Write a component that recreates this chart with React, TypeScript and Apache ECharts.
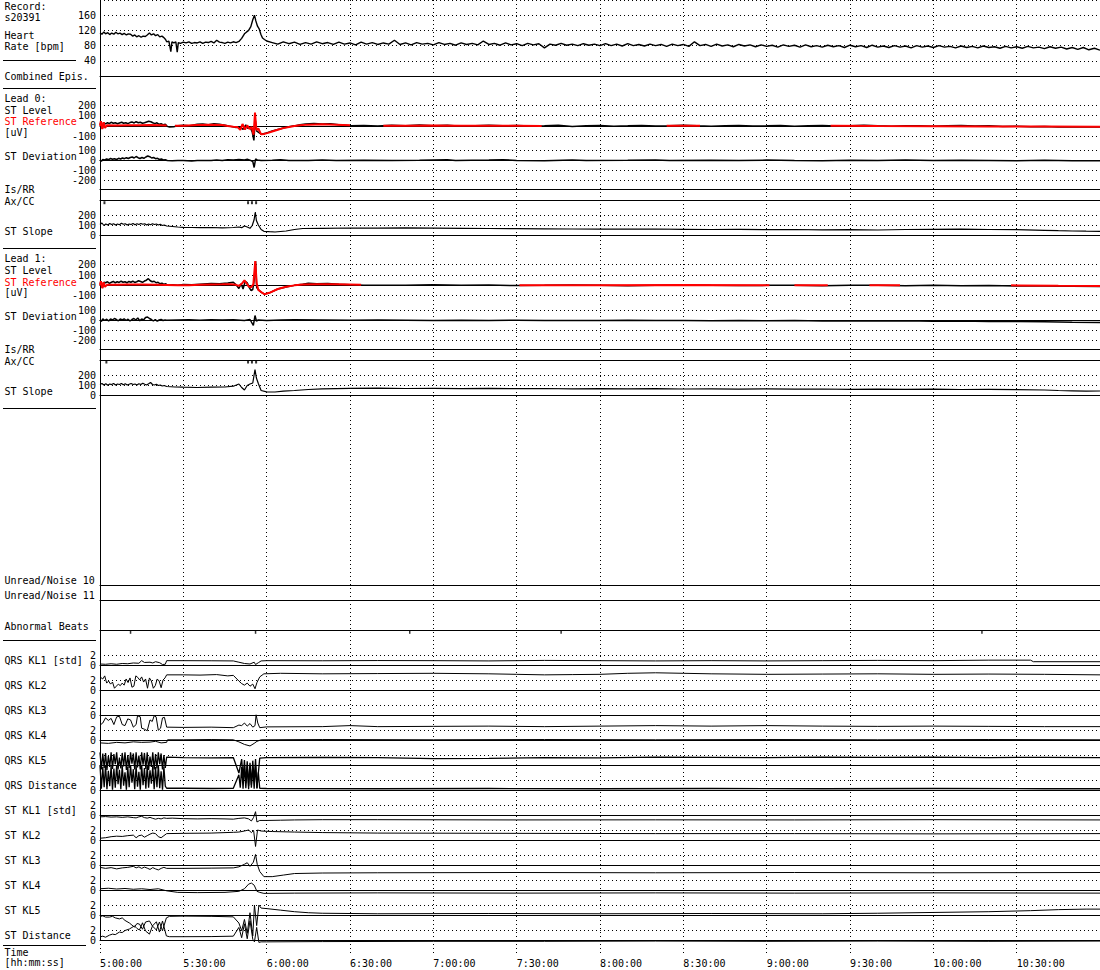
import React, { useEffect, useRef } from "react";
import * as echarts from "echarts";

// ---------- time axis (minutes after 5:00:00) ----------
const T_MIN = 0;
const T_MAX = 360;
const T_STEP = 30;
const START_HOUR = 5;

// ---------- y tick labels ----------
const HR_TICKS = [40, 80, 120, 160];
const LEVEL_TICKS = [-100, 0, 100, 200];
const DEV_TICKS = [-200, -100, 0, 100];
const SLOPE_TICKS = [0, 100, 200];
const KL_TICKS = [0, 2];

// ---------- Heart rate [bpm] ----------
const HR_BPM: [number, number][] = [
  [0,114],[0.7,110],[1.4,116],[2,111],[2.8,114],[3.5,109],[4.2,113],[5,110],[5.7,115],[6.4,111],[7.2,113],[8,109],[8.7,112],[9.5,108],[10.2,111],[11,110],[11.8,105],[12.5,108],[13.2,103],[14,106],[14.8,102],[15.5,105],[16.3,104],[17,108],[17.8,113],[18.5,108],[19.3,111],[20,106],[20.8,109],[21.5,103],[22.3,105],[23,101],[23.6,96],[24,90],[24.8,92],[25.5,64],[25.9,90],[26.6,87],[27.3,90],[27.8,63],[28.2,88],[29,86],[30,89],[31,87],[32,90],[33,86],[34,88],[35,87],[36,90],[37,86],[38,89],[39,88],[40,91],[41,87],[42,94],[43,89],[44,88],[45,86],[46,89],[47,87],[48,90],[49,88],[50,91],[51,99],[52,111],[52.8,116],[53.5,120],[54.3,130],[55,148],[55.6,160],[56.1,145],[56.7,131],[57.3,124],[57.9,110],[58.5,100],[59.2,96],
  [60,92],[62,88],[64,84],[66,90],[68,85],[70,89],[72,83],[74,88],[76,84],[78,90],[80,85],[82,88],[84,83],[86,89],[88,84],[90,87],[92,82],[94,89],[96,84],[98,88],[100,83],[102,87],[104,84],[106,94],[108,83],[110,87],[112,82],[114,88],[116,84],[118,86],[120,82],[122,88],[124,83],[126,86],[128,81],[130,87],[132,83],[134,86],[136,82],[138,92],[140,83],[142,86],[144,81],[146,87],[148,82],[150,85],[152,80],[154,86],[156,82],[158,85],[160,74],[162,84],[164,81],[166,86],[168,81],[170,84],[172,80],[174,85],[176,81],[178,84],[180,80],[182,85],[184,80],[186,84],[188,79],[190,85],[192,80],[194,83],[196,79],[198,84],[200,80],[202,83],[204,78],[206,84],[208,80],[210,83],[212,78],[214,90],[216,80],[218,83],[220,78],[222,84],[224,79],[226,82],[228,77],[230,83],[232,79],[234,82],[236,77],[238,82],[240,78],[242,81],[244,76],[246,82],[248,78],[250,81],[252,76],[254,82],[256,77],[258,80],[260,76],[262,81],[264,77],[266,80],[268,75],[270,81],[272,77],[274,80],[276,75],[278,81],[280,76],[282,79],[284,75],[286,80],[288,76],[290,79],[292,74],[294,80],[296,76],[298,79],[300,75],[302,80],[304,76],[306,78],[308,74],[310,79],[312,75],[314,78],[316,74],[318,79],[320,75],[322,77],[324,73],[326,78],[328,74],[330,77],[332,73],[334,78],[336,74],[338,76],[340,72],[342,77],[344,73],[346,76],[348,71],[350,75],[352,70],[354,75],[356,69],[358,73],[360,68]
];

// ---------- Lead 0 [uV] ----------
const L0_ST_LEVEL: [number, number][] = [
  [0,10],[0.4,45],[0.9,-25],[1.4,30],[2,20],[2.7,30],[3.4,22],[4,35],[4.8,25],[5.5,30],[6.3,20],[7,28],[7.8,35],[8.5,25],[9.3,30],[10,22],[10.8,32],[11.5,38],[12.3,28],[13,40],[13.8,30],[14.5,35],[15.3,25],[16,30],[16.8,38],[17.5,45],[18.3,40],[19,30],[19.8,22],[20.5,30],[21.3,15],[22,20],[22.8,10],[23.5,15],[24.2,-5],[25,-10],[26.5,-8],[28,0],[30,5],[32,0],[35,15],[37,18],[39,10],[41,20],[43,15],[45,5],[47,-5],[49,-15],[50.5,-10],[51.5,-35],[52.5,10],[53.2,-25],[54,-10],[54.8,-60],[55.4,-140],[55.9,60],[56.4,-50],[57,-60],[58,-80],[60,-68],[62,-50],[64,-35],[66,-20],[68,-8],[70,0],[72,10],[74,18],[77,22],[80,18],[83,20],[86,10],[90,0],[95,3],[100,-2],[105,5],[110,0],[115,8],[120,2],[125,5],[130,-3],[135,2],[140,6],[145,0],[150,3],[155,-2],[160,0],[165,5],[170,-5],[175,0],[180,3],[185,-3],[190,0],[195,4],[200,-2],[205,0],[210,6],[215,0],[220,-4],[225,0],[230,3],[235,-2],[240,0],[245,4],[250,-3],[255,0],[260,3],[265,-2],[270,0],[275,5],[280,0],[285,-3],[290,2],[295,0],[300,-4],[305,0],[310,3],[315,-2],[320,0],[325,-5],[330,-3],[335,-8],[340,-5],[345,-10],[350,-8],[355,-12],[360,-10]
];
const L0_ST_REF: [number, number | null][] = [
  [0,0],[0.3,45],[0.8,-30],[1.3,35],[1.8,-20],[2.5,5],[6,3],[10,5],[14,6],[18,8],[22,5],[24,3],[25,null],
  [27,0],[30,2],[35,8],[40,10],[44,8],[46,-2],[48,-8],[49.5,-12],[50.5,-38],[51.3,18],[52.2,-35],[53,5],[53.8,-30],[54.6,-10],[55.3,-85],[55.8,128],[56.3,-40],[57,-25],[58,-82],[59,-78],[60.5,-68],[62,-55],[64,-38],[66,-22],[68,-10],[70,-2],[72,5],[75,12],[80,15],[85,10],[90,5],[95,null],
  [102,2],[110,0],[120,3],[130,0],[140,2],[150,0],[159,-2],[180,null],
  [204,0],[216,0],[240,null],
  [263,0],[280,-2],[300,-3],[320,-5],[340,-6],[360,-8]
];
const L0_ST_DEV: [number, number][] = [
  [0,5],[0.5,-8],[1,10],[1.7,5],[2.4,15],[3.1,8],[3.8,20],[4.5,12],[5.2,18],[6,10],[6.7,22],[7.4,15],[8.1,25],[8.8,18],[9.5,28],[10.2,20],[10.9,30],[11.6,35],[12.3,25],[13,40],[13.7,28],[14.4,20],[15.1,30],[15.8,22],[16.5,35],[17.2,45],[17.9,38],[18.6,25],[19.3,30],[20,18],[20.7,22],[21.4,10],[22.1,15],[22.8,5],[23.5,8],[24.2,0],[26,-2],[28,0],[30,0],[33,-5],[35,0],[40,0],[42,5],[44,0],[46,8],[48,5],[50,10],[52,6],[53,12],[54,4],[55,-10],[55.5,-70],[56,15],[56.6,5],[58,0],[62,3],[65,8],[68,0],[75,0],[80,5],[85,0],[95,2],[105,0],[115,3],[125,8],[128,0],[140,5],[145,8],[150,0],[160,-3],[170,5],[175,0],[190,2],[200,6],[205,0],[220,3],[230,0],[240,4],[250,0],[260,-2],[270,3],[280,0],[290,5],[300,0],[310,3],[320,0],[330,-3],[340,2],[350,-3],[360,-2]
];
const L0_ST_SLOPE: [number, number][] = [
  [0,110],[0.7,125],[1.4,100],[2.1,115],[2.8,105],[3.5,120],[4.2,110],[4.9,118],[5.6,105],[6.3,115],[7,108],[7.7,122],[8.4,112],[9.1,118],[9.8,105],[10.5,115],[11.2,110],[11.9,120],[12.6,108],[13.3,118],[14,110],[14.7,120],[15.4,112],[16.1,118],[16.8,105],[17.5,115],[18.2,108],[18.9,118],[19.6,110],[20.3,115],[21,105],[21.7,112],[22.4,100],[23.1,105],[24,95],[26,90],[28,85],[30,82],[33,80],[36,78],[40,80],[44,77],[48,80],[50,85],[51,78],[52,95],[53,85],[54,72],[54.8,100],[55.5,160],[55.9,235],[56.3,150],[57,105],[58,60],[59,42],[61,38],[63,35],[65,40],[67,45],[70,60],[73,70],[80,72],[90,75],[100,73],[110,76],[120,74],[130,72],[140,70],[150,68],[160,66],[170,65],[180,64],[190,63],[200,65],[210,62],[220,60],[230,61],[240,58],[250,60],[260,57],[270,58],[280,55],[290,60],[300,62],[310,63],[320,60],[330,58],[340,52],[345,48],[350,45],[355,43],[360,42]
];
const L0_AXCC_MARKS: number[] = [1.6, 53.3, 54.7, 56.2];

// ---------- Lead 1 [uV] ----------
const L1_ST_LEVEL: [number, number][] = [
  [0,15],[0.4,40],[0.9,-25],[1.4,30],[2,25],[2.7,35],[3.4,20],[4.1,30],[4.8,38],[5.5,25],[6.2,35],[6.9,28],[7.6,40],[8.3,30],[9,35],[9.7,25],[10.4,38],[11.1,30],[11.8,40],[12.5,28],[13.2,35],[13.9,45],[14.6,38],[15.3,30],[16,42],[16.7,50],[17.4,65],[18.1,45],[18.8,35],[19.5,40],[20.2,25],[20.9,30],[21.6,15],[22.3,22],[23,10],[23.7,15],[24.4,0],[26,5],[28,0],[30,8],[33,5],[36,12],[40,18],[43,15],[46,22],[48,30],[49,5],[50,-30],[50.8,15],[51.5,-35],[52.3,40],[53,25],[53.7,-20],[54.4,-50],[55,-40],[55.5,50],[56,235],[56.4,-20],[57,-40],[58,-65],[59.2,-85],[61,-72],[64,-35],[67,-15],[70,0],[73,10],[75,20],[78,15],[82,18],[86,10],[90,5],[95,0],[100,2],[110,0],[120,5],[130,0],[140,3],[150,-2],[160,0],[170,4],[180,0],[190,-3],[200,0],[210,3],[220,0],[230,-2],[240,0],[250,2],[260,-3],[270,0],[280,2],[290,-3],[300,0],[310,-4],[320,-2],[330,-6],[340,-5],[350,-8],[360,-10]
];
const L1_ST_REF: [number, number | null][] = [
  [0,0],[0.3,40],[0.8,-27],[1.3,30],[1.8,-15],[2.5,5],[6,5],[10,8],[15,8],[20,6],[24,4],[28,2],[32,0],[36,5],[40,8],[44,10],[47,12],[49,5],[50,-5],[51,15],[52,48],[52.8,20],[53.5,-10],[54.3,-20],[55.2,10],[55.9,235],[56.4,20],[57,-45],[58.2,-68],[59.2,-86],[61,-72],[64,-35],[67,-14],[70,0],[73,8],[78,12],[85,10],[94,5],[120,null],
  [151,0],[180,2],[210,3],[241,0],[245,null],
  [250,0],[262,0],[270,null],
  [277,0],[288,0],[300,null],
  [328,0],[345,-3],[360,-5]
];
const L1_ST_DEV: [number, number][] = [
  [0,0],[0.5,-15],[1,12],[1.7,-5],[2.4,8],[3.1,-10],[3.8,10],[4.5,0],[5.2,15],[5.9,5],[6.6,-8],[7.3,10],[8,0],[8.7,12],[9.4,-5],[10.1,8],[10.8,-10],[11.5,5],[12.2,15],[12.9,0],[13.6,20],[14.3,-8],[15,10],[15.7,0],[16.4,25],[17.1,30],[17.8,15],[18.5,5],[19.2,-10],[19.9,5],[20.6,-12],[21.3,0],[22,5],[22.7,-5],[23.4,0],[24,-3],[28,0],[32,2],[36,-2],[40,3],[44,0],[48,2],[52,-5],[54,5],[55.2,-55],[55.8,45],[56.3,-10],[57,0],[60,-5],[65,0],[70,3],[80,0],[90,-3],[100,0],[110,-2],[120,-4],[130,-2],[140,-5],[150,-3],[160,-6],[170,-4],[180,-5],[190,-3],[200,-6],[210,-4],[220,-7],[230,-5],[240,-8],[250,-6],[260,-9],[270,-7],[280,-10],[290,-8],[300,-12],[310,-10],[320,-14],[330,-16],[340,-18],[350,-22],[360,-25]
];
const L1_ST_SLOPE: [number, number][] = [
  [0,105],[0.7,115],[1.4,100],[2.1,112],[2.8,98],[3.5,110],[4.2,104],[4.9,115],[5.6,100],[6.3,110],[7,105],[7.7,116],[8.4,102],[9.1,112],[9.8,100],[10.5,108],[11.2,115],[11.9,105],[12.6,110],[13.3,100],[14,112],[14.7,105],[15.4,118],[16.1,108],[16.8,100],[17.5,112],[18.2,125],[18.9,105],[19.6,100],[20.3,108],[21,95],[21.7,100],[22.4,90],[23.1,95],[24,85],[27,80],[30,78],[35,75],[40,78],[45,80],[48,88],[50,110],[51,75],[52,50],[53,95],[54,110],[55,120],[55.8,255],[56.3,170],[57,115],[58,45],[60,32],[63,30],[66,38],[70,45],[75,55],[80,62],[90,66],[100,68],[110,65],[120,67],[130,64],[140,66],[150,63],[160,65],[170,62],[180,64],[190,61],[200,63],[210,60],[220,62],[230,59],[240,61],[250,58],[260,60],[270,57],[280,59],[290,56],[300,58],[310,55],[320,57],[330,54],[340,50],[345,45],[350,42],[355,38],[360,40]
];
const L1_AXCC_MARKS: number[] = [2.3, 53.3, 54.7, 56.2];

// ---------- Abnormal beats (minutes) ----------
const ABNORMAL_BEATS: number[] = [11, 56, 111.5, 166, 317.5];

// ---------- QRS Karhunen-Loeve coefficients [std] ----------
const QRS_KL1: [number, number][] = [
  [0,0.25],[2,0.2],[4,0.3],[6,0.2],[8,0.35],[10,0.3],[12,0.45],[14,0.4],[15,0.9],[16,0.55],[18,0.6],[19,0.45],[20,0.7],[21.5,0.5],[22.5,0.15],[23.5,0.2],[24,0.9],[30,0.9],[40,0.88],[48,0.85],[50,0.6],[52,0.35],[54,0.25],[55.5,0.6],[56,0.15],[57,0.5],[58,0.85],[60,0.9],[80,0.88],[100,0.92],[120,0.9],[140,0.85],[160,0.95],[180,0.9],[200,0.85],[220,0.9],[240,0.85],[260,0.9],[280,0.95],[300,0.9],[320,1.0],[335,1.0],[336,0.7],[360,0.7]
];
const QRS_KL2: [number, number][] = [
  [0,2.6],[1,2.2],[1.7,2.8],[2.4,1.4],[3.1,1.8],[3.8,1.2],[4.5,1.6],[5.2,0.4],[5.9,0.8],[6.6,1.2],[7.3,0.9],[8,1.4],[8.7,1.0],[9.4,2.2],[10.1,1.5],[10.8,2.4],[11.5,0.6],[12.2,0.8],[12.9,2.8],[13.6,2.5],[14.3,2.0],[15,2.6],[15.7,1.6],[16.4,2.2],[17.1,0.4],[17.8,2.4],[18.5,1.8],[19.2,0.4],[19.9,0.9],[20.6,2.2],[21.3,1.8],[22,0.5],[22.7,2.0],[23.4,2.4],[24,3.0],[30,3.0],[36,2.95],[42,3.05],[46,2.8],[48,2.9],[50,1.8],[51,1.3],[52,1.0],[53,1.4],[54,0.8],[55,1.2],[55.8,0.3],[56.5,1.5],[57.5,2.6],[59,3.2],[65,3.3],[80,3.2],[100,3.25],[120,3.3],[140,3.2],[150,3.1],[160,3.0],[170,3.05],[180,3.1],[190,3.3],[200,3.4],[210,3.3],[220,3.2],[240,3.1],[260,3.15],[280,3.2],[300,3.1],[320,3.15],[340,3.1],[360,3.0]
];
const QRS_KL3: [number, number][] = [
  [0,-1.9],[1,-1.5],[2,-0.5],[3,-1.0],[4,-0.6],[5,-1.8],[6,-0.3],[7,-0.2],[8,-1.8],[9,-2.0],[10,-0.7],[11,-0.9],[12,-2.3],[13,-1.8],[13.5,-0.1],[14.5,-0.3],[15,-2.5],[16,-2.7],[17,-3.0],[18,-0.9],[18.8,-1.2],[19.5,-0.1],[20.2,-0.3],[21,-2.9],[21.8,-2.5],[22.5,-0.5],[23.2,-0.4],[24,-2.3],[30,-2.35],[40,-2.3],[48,-2.4],[50,-1.9],[51,-2.0],[52,-1.5],[53,-2.1],[54,-1.6],[55,-2.3],[55.8,-2.0],[56.2,0.1],[56.8,-1.5],[57.5,-2.4],[60,-2.25],[80,-2.2],[90,-2.0],[100,-2.2],[120,-2.15],[140,-2.1],[160,-2.2],[180,-2.1],[200,-2.0],[220,-2.1],[240,-2.0],[260,-2.1],[280,-2.15],[300,-2.1],[320,-2.15],[340,-2.2],[360,-2.2]
];
const QRS_KL4: [number, number][] = [
  [0,-0.5],[3,-0.6],[6,-0.4],[9,-0.5],[12,-0.3],[15,-0.4],[18,-0.35],[20,-0.2],[22,-0.5],[24,-0.4],[24.3,0.1],[30,0.1],[40,0.15],[48,0.1],[50,-0.3],[52,-0.8],[54,-1.1],[55.5,-0.6],[56.5,-0.2],[58,0.1],[80,0.15],[120,0.1],[160,0.15],[200,0.1],[240,0.15],[280,0.1],[320,0.15],[360,0.1]
];
const QRS_KL5: [number, number][] = [
  [0,2.5],[0.5,-0.8],[1,2.3],[1.5,-0.5],[2,2.4],[2.5,-0.9],[3,1.8],[3.5,-0.3],[4,2.5],[4.5,-0.7],[5,2.2],[5.5,0.2],[6,2.5],[6.5,-0.8],[7,1.5],[7.5,-0.6],[8,2.4],[8.5,-0.2],[9,2.5],[9.5,-0.9],[10,2.0],[10.5,-0.5],[11,2.5],[11.5,0.3],[12,2.3],[12.5,-0.8],[13,2.5],[13.5,-0.4],[14,1.9],[14.5,-0.8],[15,2.5],[15.5,0.1],[16,2.4],[16.5,-0.7],[17,2.5],[17.5,-0.9],[18,1.7],[18.5,-0.3],[19,2.5],[19.5,-0.8],[20,2.2],[20.5,-0.6],[21,2.5],[21.5,0.2],[22,2.3],[22.5,-0.8],[23,2.0],[23.5,-0.5],[24,1.6],[30,1.5],[40,1.45],[48,1.5],[50,-1.5],[51,1.2],[51.5,-2.5],[52,1.0],[52.5,-3.5],[53,0.8],[53.5,-4],[54,0.5],[54.5,-3.8],[55,0.9],[55.5,-3],[56,1.2],[56.5,-4.5],[57.5,1.4],[60,1.5],[80,1.55],[100,1.5],[120,1.3],[140,1.35],[160,1.5],[180,1.45],[200,1.6],[220,1.55],[240,1.5],[260,1.6],[280,1.55],[300,1.6],[320,1.5],[340,1.55],[360,1.5]
];
const QRS_DIST: [number, number][] = [
  [0,4.8],[0.5,0.3],[1,4.5],[1.5,0.6],[2,4.9],[2.5,0.2],[3,3.8],[3.5,0.8],[4,4.7],[4.5,0.1],[5,4.2],[5.5,0.5],[6,4.9],[6.5,1.2],[7,4.0],[7.5,0.2],[8,4.8],[8.5,0.9],[9,3.5],[9.5,0.1],[10,4.6],[10.5,0.6],[11,4.9],[11.5,1.5],[12,4.1],[12.5,0.2],[13,4.8],[13.5,0.7],[14,3.6],[14.5,0.1],[15,4.9],[15.5,1.0],[16,4.3],[16.5,0.3],[17,4.8],[17.5,0.5],[18,3.9],[18.5,1.3],[19,4.7],[19.5,0.2],[20,4.5],[20.5,0.6],[21,4.9],[21.5,0.4],[22,3.7],[22.5,0.1],[23,4.6],[23.5,0.8],[24,0.4],[30,0.4],[40,0.35],[48,0.4],[50,3.0],[50.5,0.5],[51,4.5],[51.5,0.3],[52,4.8],[52.5,0.4],[53,4.7],[53.5,0.2],[54,4.9],[54.5,0.5],[55,4.6],[55.5,0.3],[56,4.8],[56.5,0.4],[57,3.5],[57.5,0.4],[60,0.35],[100,0.3],[140,0.35],[180,0.3],[220,0.35],[260,0.3],[300,0.35],[340,0.3],[360,0.3]
];

// ---------- ST Karhunen-Loeve coefficients [std] ----------
const ST_KL1: [number, number][] = [
  [0,-0.3],[2,-0.25],[4,-0.35],[6,-0.3],[8,-0.4],[10,-0.3],[12,-0.45],[13,-0.5],[14,-0.3],[15,-0.2],[16,-0.45],[17,-0.55],[18,-0.4],[19,-0.6],[20,-0.75],[21,-0.6],[22,-0.7],[23,-0.5],[24,-0.6],[26,-0.55],[30,-0.65],[35,-0.7],[40,-0.65],[45,-0.7],[48,-0.75],[50,-0.6],[52,-0.5],[53.5,-0.7],[54.5,-1.1],[55.3,-0.4],[56,0.7],[56.5,-1.3],[57.5,-1.0],[60,-1.0],[65,-0.95],[70,-0.9],[80,-0.85],[100,-0.85],[150,-0.9],[200,-0.88],[250,-0.9],[300,-0.85],[360,-0.9]
];
const ST_KL2: [number, number][] = [
  [0,0.4],[2,0.5],[4,0.7],[6,0.8],[8,0.75],[10,0.9],[12,1.0],[13,0.5],[14,0.9],[15,1.0],[16,0.6],[17,0.9],[18,1.2],[19,1.4],[20,1.3],[21,0.7],[22,0.5],[23,0.9],[24,1.3],[30,1.35],[40,1.4],[48,1.55],[50,1.6],[52,1.8],[53.5,2.0],[54.5,1.5],[55.3,1.9],[56,-1.2],[56.7,2.0],[58,1.8],[62,1.7],[70,1.6],[80,1.5],[100,1.4],[150,1.35],[200,1.3],[250,1.3],[300,1.25],[360,1.3]
];
const ST_KL3: [number, number][] = [
  [0,-0.4],[2,-0.6],[4,-0.45],[6,-0.7],[8,-0.5],[10,-0.4],[12,-0.2],[13,-0.5],[14,-0.3],[15,-0.6],[16,-0.35],[17,-0.55],[18,-0.8],[19,-0.45],[20,-0.7],[21,-0.9],[22,-0.6],[23,-0.4],[24,-0.6],[30,-0.6],[40,-0.55],[48,-0.5],[50,-0.3],[52,0.2],[53,0.5],[54,-0.2],[55.2,0.6],[56,2.1],[56.6,0.2],[57.5,-1.2],[59,-2.2],[62,-2.2],[66,-1.9],[70,-1.6],[80,-1.5],[100,-1.45],[150,-1.4],[200,-1.45],[250,-1.4],[300,-1.45],[360,-1.4]
];
const ST_KL4: [number, number][] = [
  [0,0.3],[3,0.4],[6,0.25],[9,0.35],[12,0.2],[15,0.3],[18,0.15],[21,0.3],[24,-0.1],[28,-0.4],[35,-0.45],[45,-0.4],[50,-0.2],[52,0.3],[53.5,1.2],[54.5,1.4],[55.5,1.0],[56.5,-0.2],[57.5,-0.4],[59,-0.6],[70,-0.55],[100,-0.5],[150,-0.55],[200,-0.5],[250,-0.55],[300,-0.5],[360,-0.55]
];
const ST_KL5: [number, number][] = [
  [0,-0.25],[1,-0.1],[2,-0.35],[3.4,-0.35],[4.5,-0.2],[5.5,-0.5],[7,-0.7],[8,-0.5],[9,-1.0],[10.6,-1.5],[11.5,-1.9],[12.4,-2.3],[13.3,-1.6],[14.2,-1.7],[15.3,-2.7],[16.4,-1.3],[17.8,-1.1],[18.9,-2.1],[20.3,-2.85],[21.4,-1.3],[22.5,-3.0],[23.9,-0.5],[25,-0.2],[30,-0.15],[40,-0.2],[48,-0.3],[50,-1.5],[51,-3],[52,-0.8],[53,-3.5],[54,0.5],[55,-4],[55.6,2.0],[56.4,-2],[57.2,2.0],[58,1.4],[60,1.3],[65,1.0],[70,0.7],[75,0.5],[80,0.4],[100,0.3],[140,0.35],[180,0.3],[220,0.35],[260,0.3],[280,0.4],[300,0.55],[320,0.7],[335,0.9],[345,1.1],[355,1.2],[360,1.2]
];
const ST_DIST: [number, number][] = [
  [0,0.65],[1,0.8],[2,0.6],[3.4,1.0],[4.5,1.2],[5.5,1.1],[7,1.6],[8,1.5],[9,1.9],[10.6,2.2],[11.5,2.5],[12.4,2.8],[13.3,2.3],[14.2,2.0],[15.3,3.4],[16.4,1.8],[17.8,1.2],[18.9,2.8],[20.3,3.6],[21.4,1.6],[22.5,3.75],[23.9,0.85],[25,0.7],[30,0.7],[40,0.72],[48,0.8],[50,2.5],[51,0.5],[52,3.2],[53,0.3],[54,3.8],[55,0.2],[55.6,-0.3],[56.4,2.5],[57.2,-0.4],[58,-0.3],[60,-0.3],[80,-0.25],[120,-0.2],[160,-0.2],[200,-0.15],[240,-0.2],[280,-0.15],[320,-0.2],[360,-0.15]
];

// ---------- left-hand labels ----------
const LEFT_LABELS: [string, number, string][] = [
  ["Record:", 6.5, "#000"], ["s20391", 17, "#000"], ["Heart", 35.5, "#000"], ["Rate [bpm]", 46.5, "#000"],
  ["Combined Epis.", 76, "#000"],
  ["Lead 0:", 98, "#000"], ["ST Level", 110, "#000"], ["ST Reference", 121.5, "#ff0000"], ["[uV]", 132.5, "#000"],
  ["ST Deviation", 156, "#000"], ["Is/RR", 189, "#000"], ["Ax/CC", 201, "#000"], ["ST Slope", 231, "#000"],
  ["Lead 1:", 258.5, "#000"], ["ST Level", 270.5, "#000"], ["ST Reference", 282, "#ff0000"], ["[uV]", 292.5, "#000"],
  ["ST Deviation", 316, "#000"], ["Is/RR", 349.5, "#000"], ["Ax/CC", 361, "#000"], ["ST Slope", 391, "#000"],
  ["Unread/Noise 10", 580.5, "#000"], ["Unread/Noise 11", 595.5, "#000"], ["Abnormal Beats", 626, "#000"],
  ["QRS KL1 [std]", 660.5, "#000"], ["QRS KL2", 685.5, "#000"], ["QRS KL3", 710.5, "#000"], ["QRS KL4", 735.5, "#000"],
  ["QRS KL5", 760.5, "#000"], ["QRS Distance", 785.5, "#000"], ["ST KL1 [std]", 810.5, "#000"], ["ST KL2", 835.5, "#000"],
  ["ST KL3", 860.5, "#000"], ["ST KL4", 885.5, "#000"], ["ST KL5", 910.5, "#000"], ["ST Distance", 935.5, "#000"],
  ["Time", 952, "#000"], ["[hh:mm:ss]", 962, "#000"]
];
const LEFT_RULES: [number, number][] = [[60.5, 76], [88.5, 96], [248.5, 96], [408.5, 96], [640.5, 96], [945.5, 86]];

const FONT = "DejaVu Sans Mono";
const DOT = { type: [1, 3], color: "#000", width: 1 };

function fmtTime(v: number): string {
  const h = START_HOUR + Math.floor(v / 60);
  const m = Math.round(v % 60);
  return `${h}:${String(m).padStart(2, "0")}:00`;
}

function buildOption() {
  const grid: any[] = [];
  const xAxis: any[] = [];
  const yAxis: any[] = [];
  const series: any[] = [];

  const addGrid = (
    top: number,
    height: number,
    y: { min: number; max: number; interval: number; ticks?: number[]; split?: boolean; line?: boolean },
    x: { line: boolean; position?: string; onZero?: boolean; split?: boolean; labels?: boolean }
  ) => {
    const idx = grid.length;
    grid.push({ left: 100, right: 0, top, height });
    xAxis.push({
      type: "value", gridIndex: idx, min: T_MIN, max: T_MAX, interval: T_STEP,
      position: x.position || "bottom",
      axisLine: { show: x.line, onZero: x.onZero !== false, lineStyle: { color: "#000", width: 1 } },
      axisTick: { show: false },
      axisLabel: x.labels
        ? { show: true, formatter: fmtTime, align: "left", margin: 3, fontFamily: FONT, fontSize: 10, color: "#000", showMaxLabel: false }
        : { show: false },
      splitLine: { show: !!x.split, lineStyle: DOT },
    });
    const yLabel: any = y.ticks
      ? { show: true, customValues: y.ticks, fontFamily: FONT, fontSize: 10, lineHeight: 8, color: "#000", margin: 4, hideOverlap: false, showMinLabel: true, showMaxLabel: true }
      : { show: false };
    yAxis.push({
      type: "value", gridIndex: idx, min: y.min, max: y.max, interval: y.interval,
      axisLine: { show: !!y.line, lineStyle: { color: "#000", width: 1 } },
      axisTick: { show: false },
      axisLabel: yLabel,
      splitLine: { show: !!y.split, lineStyle: DOT },
    });
    return idx;
  };

  const line = (idx: number, data: any[], color = "#000", width = 1, z = 2) => {
    series.push({
      type: "line", xAxisIndex: idx, yAxisIndex: idx, data, symbol: "none", showSymbol: false,
      lineStyle: { color, width }, clip: false, silent: true, connectNulls: false, z,
    });
  };
  const marks = (idx: number, times: number[], size: number[] = [2, 3]) => {
    series.push({
      type: "scatter", xAxisIndex: idx, yAxisIndex: idx, data: times.map((t) => [t, 1]),
      symbol: "rect", symbolSize: size, symbolOffset: [0, size[1] / 2 + 0.5], itemStyle: { color: "#000" }, silent: true, clip: false,
    });
  };

  // background: vertical dotted time grid + left axis line
  addGrid(0, 940, { min: 0, max: 1, interval: 1, line: true }, { line: false, split: true });
  // time labels strip
  addGrid(940, 15, { min: 0, max: 1, interval: 1 }, { line: false, split: true, labels: true });

  // Heart rate
  const hr = addGrid(-1, 77, { min: 0, max: 200, interval: 40, ticks: HR_TICKS, split: true }, { line: true });
  line(hr, HR_BPM, "#000", 1.4);

  // Lead panels
  const lead = (off: number, lvl: any[], ref: any[], dev: any[], slope: any[], ax: number[], isTop: number, axTop: number) => {
    const g1 = addGrid(105.2 + off, 31, { min: -100, max: 200, interval: 100, ticks: LEVEL_TICKS, split: true }, { line: true });
    line(g1, lvl, "#000", 1.5, 2);
    line(g1, ref, "#ff0000", 2, 3);
    const g2 = addGrid(150.5 + off, 30, { min: -200, max: 100, interval: 100, ticks: DEV_TICKS, split: true }, { line: true });
    line(g2, dev, "#000", 1.5);
    addGrid(isTop, 11, { min: 0, max: 1, interval: 1 }, { line: true, position: "top", onZero: false });
    const g4 = addGrid(axTop, 6, { min: 0, max: 1, interval: 1 }, { line: true, position: "top", onZero: false });
    marks(g4, ax);
    const g5 = addGrid(215.5 + off, 20, { min: 0, max: 200, interval: 100, ticks: SLOPE_TICKS, split: true }, { line: true });
    line(g5, slope, "#000", 1.2);
  };
  lead(0, L0_ST_LEVEL, L0_ST_REF, L0_ST_DEV, L0_ST_SLOPE, L0_AXCC_MARKS, 189, 200.7);
  lead(159.5, L1_ST_LEVEL, L1_ST_REF, L1_ST_DEV, L1_ST_SLOPE, L1_AXCC_MARKS, 349.3, 360);

  // annotation rows
  addGrid(585, 10, { min: 0, max: 1, interval: 1 }, { line: true, position: "top", onZero: false });
  addGrid(600.3, 10, { min: 0, max: 1, interval: 1 }, { line: true, position: "top", onZero: false });
  const ab = addGrid(630.3, 8, { min: 0, max: 1, interval: 1 }, { line: true, position: "top", onZero: false });
  marks(ab, ABNORMAL_BEATS, [1.5, 3]);

  // KL panels
  const KL = [QRS_KL1, QRS_KL2, QRS_KL3, QRS_KL4, QRS_KL5, QRS_DIST, ST_KL1, ST_KL2, ST_KL3, ST_KL4, ST_KL5, ST_DIST];
  KL.forEach((d, i) => {
    const g = addGrid(655 + 25 * i, 10.3, { min: 0, max: 2, interval: 2, ticks: KL_TICKS, split: true }, { line: true });
    line(g, d, "#000", i === 4 || i === 5 ? 1.3 : 1);
  });

  const graphic: any[] = [];
  LEFT_LABELS.forEach(([text, y, color]) => {
    graphic.push({
      type: "text", x: 4.5, y, silent: true,
      style: { text, fill: color, font: `10px "${FONT}"`, textVerticalAlign: "middle", verticalAlign: "middle" },
    });
  });
  LEFT_RULES.forEach(([y, x2]) => {
    graphic.push({ type: "line", silent: true, shape: { x1: 3, y1: y, x2, y2: y }, style: { stroke: "#000", lineWidth: 1 } });
  });

  return { animation: false, backgroundColor: "#fff", grid, xAxis, yAxis, series, graphic };
}

export default function App() {
  const ref = useRef<HTMLDivElement>(null);
  useEffect(() => {
    if (!ref.current) return;
    const chart = echarts.init(ref.current, null, { renderer: "svg" });
    chart.setOption(buildOption());
    return () => chart.dispose();
  }, []);
  return <div ref={ref} style={{ position: "absolute", left: 0, top: 0, width: 1100, height: 970 }} />;
}
